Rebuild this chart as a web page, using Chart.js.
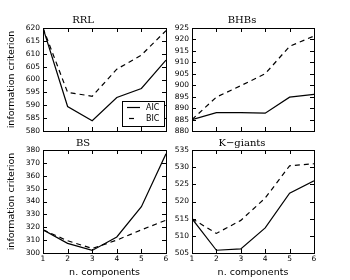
<!DOCTYPE html>
<html>
<head>
<meta charset="utf-8">
<script src="https://cdn.jsdelivr.net/npm/chart.js@4.4.1/dist/chart.umd.min.js"></script>
<style>
  html, body { margin: 0; padding: 0; background: #fff; }
  #wrap { position: relative; width: 350px; height: 280px; overflow: hidden; }
  canvas { position: absolute; }
</style>
</head>
<body>
<div id="wrap">
  <canvas id="c-rrl"></canvas>
  <canvas id="c-bhb"></canvas>
  <canvas id="c-bs"></canvas>
  <canvas id="c-kg"></canvas>
</div>
<script>
var components = [1, 2, 3, 4, 5, 6];

var rrlAIC = [620, 589.5, 584, 593, 596.5, 607.5];
var rrlBIC = [620, 595, 593.5, 604, 609.5, 619];
var bhbAIC = [885, 888, 888, 887.8, 894.8, 896];
var bhbBIC = [885, 894.8, 899.8, 905, 917, 921.5];
var bsAIC = [318, 307.5, 302, 312.5, 336, 377];
var bsBIC = [318, 309.5, 303.5, 310, 318, 325.5];
var kgAIC = [515, 505.8, 506.2, 512.3, 522.4, 526];
var kgBIC = [515, 510.7, 514.5, 521, 530.4, 531];

var sans = "'DejaVu Sans', sans-serif";
var serif = "'DejaVu Serif', 'Liberation Serif', serif";

// frame + inward ticks on all four sides, matplotlib style
var framePlugin = {
    id: 'frame',
    afterDatasetsDraw: function (chart) {
        var ctx = chart.ctx, a = chart.chartArea;
        var xs = chart.scales.x, ys = chart.scales.y;
        var len = 4;
        ctx.save();
        ctx.strokeStyle = '#000';
        ctx.lineWidth = 1;
        ctx.beginPath();
        xs.ticks.forEach(function (t) {
            var px = Math.round(xs.getPixelForValue(t.value)) + 0.5;
            ctx.moveTo(px, a.bottom); ctx.lineTo(px, a.bottom - len);
            ctx.moveTo(px, a.top); ctx.lineTo(px, a.top + len);
        });
        ys.ticks.forEach(function (t) {
            var py = Math.round(ys.getPixelForValue(t.value)) + 0.5;
            ctx.moveTo(a.left, py); ctx.lineTo(a.left + len, py);
            ctx.moveTo(a.right, py); ctx.lineTo(a.right - len, py);
        });
        ctx.stroke();
        ctx.strokeRect(Math.round(a.left) + 0.5, Math.round(a.top) + 0.5,
            Math.round(a.right - a.left), Math.round(a.bottom - a.top));
        ctx.restore();
    }
};

// boxed legend in lower right corner of the plot area
var boxLegendPlugin = {
    id: 'boxLegend',
    afterDraw: function (chart, args, opts) {
        if (!opts.show) return;
        var ctx = chart.ctx, a = chart.chartArea;
        var w = 42, h = 25;
        var x0 = Math.round(a.right) - 44, y0 = Math.round(a.bottom) - 30;
        ctx.save();
        ctx.fillStyle = '#fff';
        ctx.fillRect(x0, y0, w, h);
        ctx.strokeStyle = '#000';
        ctx.lineWidth = 1;
        ctx.strokeRect(x0 + 0.5, y0 + 0.5, w, h);
        ctx.font = '8px ' + sans;
        ctx.textBaseline = 'middle';
        chart.data.datasets.forEach(function (ds, i) {
            var y = y0 + 6.5 + i * 11;
            ctx.lineWidth = 1.2;
            ctx.beginPath();
            if (ds.borderDash) {
                // a single dash, the way matplotlib shows a short dashed sample
                ctx.moveTo(x0 + 7, y);
                ctx.lineTo(x0 + 12, y);
            } else {
                ctx.moveTo(x0 + 5, y);
                ctx.lineTo(x0 + 18, y);
            }
            ctx.stroke();
            ctx.fillStyle = '#000';
            ctx.fillText(ds.label, x0 + 24, y + 0.5);
        });
        ctx.restore();
    }
};

function makePanel(id, box, title, aic, bic, yMin, yMax, yStep, cfg) {
    var canvas = document.getElementById(id);
    canvas.style.left = box.left + 'px';
    canvas.style.top = box.top + 'px';
    canvas.width = box.width;
    canvas.height = box.height;

    return new Chart(canvas.getContext('2d'), {
        type: 'line',
        data: {
            datasets: [
                {
                    label: 'AIC',
                    data: components.map(function (c, i) { return {x: c, y: aic[i]}; }),
                    borderColor: '#000',
                    borderWidth: 1.2,
                    pointRadius: 0,
                    tension: 0,
                    fill: false
                },
                {
                    label: 'BIC',
                    data: components.map(function (c, i) { return {x: c, y: bic[i]}; }),
                    borderColor: '#000',
                    borderWidth: 1.2,
                    borderDash: [5, 4],
                    pointRadius: 0,
                    tension: 0,
                    fill: false
                }
            ]
        },
        options: {
            responsive: false,
            animation: false,
            layout: {
                autoPadding: false,
                padding: {left: 0, right: cfg.padRight, top: 0, bottom: 0}
            },
            scales: {
                x: {
                    type: 'linear',
                    min: 1,
                    max: 6,
                    grid: {display: false, drawTicks: false},
                    border: {display: false},
                    ticks: {
                        stepSize: 1,
                        display: cfg.xLabels,
                        padding: 2,
                        color: '#000',
                        font: {family: sans, size: 7.5},
                        maxRotation: 0
                    },
                    title: {
                        display: cfg.xLabels,
                        text: 'n. components',
                        color: '#000',
                        font: {family: sans, size: 9.5},
                        padding: {top: 1, bottom: 2}
                    },
                    afterFit: function (s) { s.height = cfg.xHeight; }
                },
                y: {
                    min: yMin,
                    max: yMax,
                    grid: {display: false, drawTicks: false},
                    border: {display: false},
                    ticks: {
                        stepSize: yStep,
                        autoSkip: false,
                        padding: 3,
                        color: '#000',
                        font: {family: sans, size: 7.5}
                    },
                    title: {
                        display: cfg.yTitle,
                        text: 'information criterion',
                        color: '#000',
                        font: {family: sans, size: 9.5},
                        padding: {top: 6, bottom: 0}
                    },
                    afterFit: function (s) { s.width = cfg.yWidth; }
                }
            },
            plugins: {
                legend: {display: false},
                tooltip: {enabled: false},
                title: {
                    display: true,
                    text: title,
                    color: '#000',
                    font: {family: serif, size: 10, weight: 'normal'},
                    padding: {top: cfg.titleTop, bottom: cfg.titleBottom}
                },
                boxLegend: {show: !!cfg.legend}
            }
        },
        plugins: [framePlugin, boxLegendPlugin]
    });
}

makePanel('c-rrl', {left: 0, top: 0, width: 175, height: 140}, 'RRL',
    rrlAIC, rrlBIC, 580, 620, 5,
    {padRight: 9, xHeight: 9, yWidth: 43, yTitle: true, xLabels: false, titleTop: 14, titleBottom: 2, legend: true});

makePanel('c-bhb', {left: 170, top: 0, width: 180, height: 140}, 'BHBs',
    bhbAIC, bhbBIC, 880, 925, 5,
    {padRight: 36, xHeight: 9, yWidth: 22, yTitle: false, xLabels: false, titleTop: 14, titleBottom: 2});

makePanel('c-bs', {left: 0, top: 130, width: 175, height: 150}, 'BS',
    bsAIC, bsBIC, 300, 380, 10,
    {padRight: 9, xHeight: 27, yWidth: 43, yTitle: true, xLabels: true, titleTop: 7, titleBottom: 1});

makePanel('c-kg', {left: 170, top: 130, width: 180, height: 150}, 'K\u2212giants',
    kgAIC, kgBIC, 505, 535, 5,
    {padRight: 36, xHeight: 27, yWidth: 22, yTitle: false, xLabels: true, titleTop: 7, titleBottom: 1});
</script>
</body>
</html>
